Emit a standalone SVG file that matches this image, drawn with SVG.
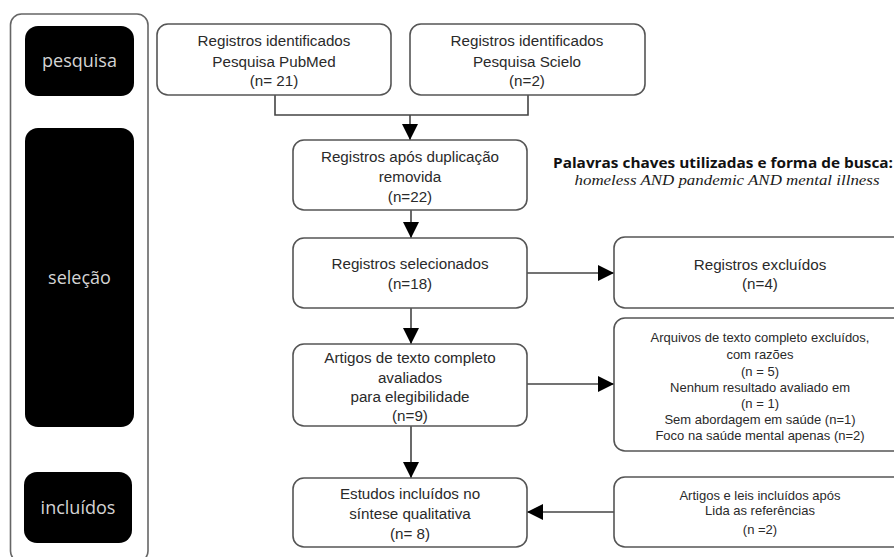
<svg xmlns="http://www.w3.org/2000/svg" width="894" height="557" viewBox="0 0 894 557">
  <defs>
    <marker id="arrow" viewBox="0 0 16 16" refX="16" refY="8" markerWidth="16" markerHeight="16" markerUnits="userSpaceOnUse" orient="auto">
      <path d="M0,0 L16,8 L0,16 Z" fill="#000"/>
    </marker>
    <style>
      .box { fill: #fff; stroke: #555; stroke-width: 1.6; }
      .stage { fill: #000; }
      .stage-label { font-family: "Open Sans", "Liberation Sans", sans-serif; font-size: 18px; fill: #d4d4d4; text-anchor: middle; }
      .t { font-family: "Liberation Sans", "Open Sans", sans-serif; font-size: 15.2px; fill: #2a2a2a; text-anchor: middle; }
      .s { font-family: "Liberation Sans", "Open Sans", sans-serif; font-size: 13px; fill: #2a2a2a; text-anchor: middle; }
      .conn { fill: none; stroke: #444; stroke-width: 1.6; }
      .kw { font-family: "Open Sans", "Liberation Sans", sans-serif; font-size: 15px; font-weight: bold; fill: #111; }
      .kwi { font-family: "Liberation Serif", serif; font-size: 15px; font-style: italic; fill: #1a1a1a; text-anchor: middle; }
    </style>
  </defs>

  <rect width="894" height="557" fill="#fff"/>

  <!-- stage column -->
  <g id="stages">
    <rect x="10.5" y="14" width="137.5" height="548" rx="11" fill="#fff" stroke="#666" stroke-width="1.6"/>
    <g id="stage-pesquisa">
      <rect class="stage" x="25" y="26" width="109" height="70" rx="13"/>
      <text class="stage-label" x="79.5" y="67">pesquisa</text>
    </g>
    <g id="stage-selecao">
      <rect class="stage" x="25" y="128" width="109" height="299" rx="13"/>
      <text class="stage-label" x="79.5" y="284">seleção</text>
    </g>
    <g id="stage-incluidos">
      <rect class="stage" x="24" y="472" width="108" height="71" rx="13"/>
      <text class="stage-label" x="78" y="514">incluídos</text>
    </g>
  </g>

  <!-- connectors -->
  <g id="connectors">
    <path class="conn" d="M275,95 V115 H528 V95"/>
    <path class="conn" d="M410,115 V140" marker-end="url(#arrow)"/>
    <path class="conn" d="M411,210 V238" marker-end="url(#arrow)"/>
    <path class="conn" d="M411,308 V344" marker-end="url(#arrow)"/>
    <path class="conn" d="M411,426 V478" marker-end="url(#arrow)"/>
    <path class="conn" d="M527,273 H614" marker-end="url(#arrow)"/>
    <path class="conn" d="M527,384 H614" marker-end="url(#arrow)"/>
    <path class="conn" d="M614,512 H527" marker-end="url(#arrow)"/>
  </g>

  <g id="n-pubmed">
    <rect class="box" x="157" y="24" width="234" height="71" rx="11"/>
    <text class="t" x="274" y="46">Registros identificados</text>
    <text class="t" x="274" y="67">Pesquisa PubMed</text>
    <text class="t" x="274" y="86">(n= 21)</text>
  </g>

  <g id="n-scielo">
    <rect class="box" x="410" y="24" width="235" height="71" rx="11"/>
    <text class="t" x="527" y="46">Registros identificados</text>
    <text class="t" x="527" y="67">Pesquisa Scielo</text>
    <text class="t" x="527" y="86">(n=2)</text>
  </g>

  <g id="n-dedup">
    <rect class="box" x="293" y="140" width="234" height="70" rx="11"/>
    <text class="t" x="410" y="162">Registros após duplicação</text>
    <text class="t" x="410" y="182">removida</text>
    <text class="t" x="410" y="202">(n=22)</text>
  </g>

  <g id="keywords">
    <text class="kw" x="553" y="168" textLength="340" lengthAdjust="spacingAndGlyphs">Palavras chaves utilizadas e forma de busca:</text>
    <text class="kwi" x="727" y="185" textLength="305" lengthAdjust="spacingAndGlyphs">homeless AND pandemic AND mental illness</text>
  </g>

  <g id="n-selected">
    <rect class="box" x="293" y="238" width="234" height="70" rx="11"/>
    <text class="t" x="410" y="269">Registros selecionados</text>
    <text class="t" x="410" y="289">(n=18)</text>
  </g>

  <g id="n-excluded">
    <rect class="box" x="614" y="237" width="300" height="71" rx="11"/>
    <text class="t" x="760" y="270">Registros excluídos</text>
    <text class="t" x="760" y="289">(n=4)</text>
  </g>

  <g id="n-fulltext">
    <rect class="box" x="293" y="344" width="234" height="82" rx="11"/>
    <text class="t" x="410" y="363">Artigos de texto completo</text>
    <text class="t" x="410" y="383">avaliados</text>
    <text class="t" x="410" y="402">para elegibilidade</text>
    <text class="t" x="410" y="421">(n=9)</text>
  </g>

  <g id="n-fulltext-excluded">
    <rect class="box" x="614" y="318" width="300" height="133" rx="11"/>
    <text class="s" x="760" y="342">Arquivos de texto completo excluídos,</text>
    <text class="s" x="760" y="359">com razões</text>
    <text class="s" x="760" y="376">(n = 5)</text>
    <text class="s" x="760" y="392">Nenhum resultado avaliado em</text>
    <text class="s" x="760" y="408">(n = 1)</text>
    <text class="s" x="760" y="424">Sem abordagem em saúde (n=1)</text>
    <text class="s" x="760" y="440">Foco na saúde mental apenas (n=2)</text>
  </g>

  <g id="n-included">
    <rect class="box" x="293" y="478" width="234" height="69" rx="11"/>
    <text class="t" x="410" y="499">Estudos incluídos no</text>
    <text class="t" x="410" y="519">síntese qualitativa</text>
    <text class="t" x="410" y="539">(n= 8)</text>
  </g>

  <g id="n-references">
    <rect class="box" x="614" y="477" width="300" height="70" rx="11"/>
    <text class="s" x="760" y="500">Artigos e leis incluídos após</text>
    <text class="s" x="760" y="515">Lida as referências</text>
    <text class="s" x="760" y="534">(n =2)</text>
  </g>
</svg>
